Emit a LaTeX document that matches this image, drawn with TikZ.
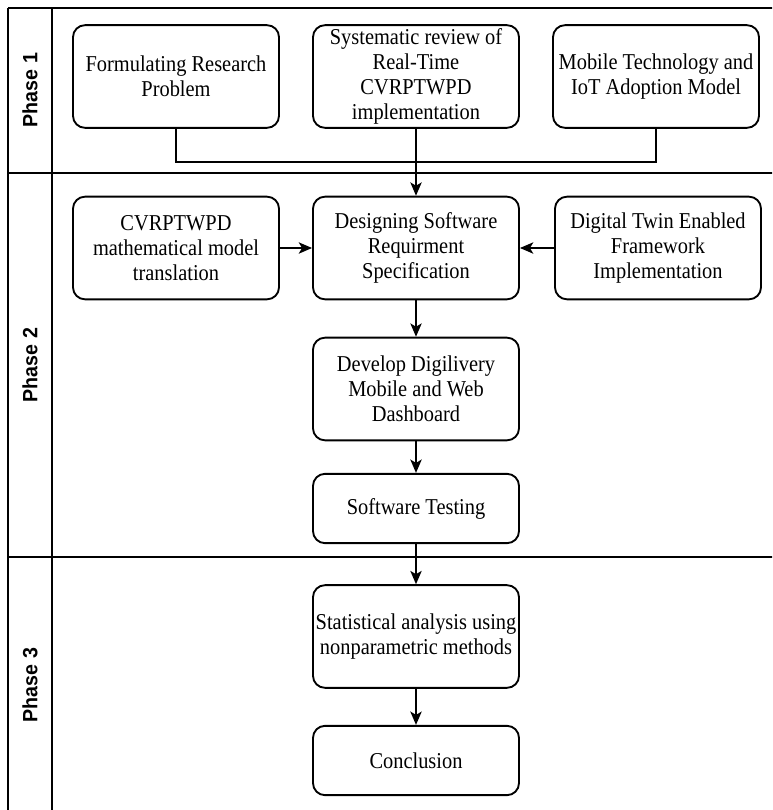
\documentclass[tikz,border=0pt]{standalone}
\usepackage{fontspec}
\setmainfont{Liberation Serif}[FakeStretch=0.9]
\newfontfamily\lanefont{Liberation Sans}[FakeStretch=0.95]
\usetikzlibrary{arrows.meta}
\tikzset{
  stepbox/.style={draw, line width=1.4pt, rounded corners=9pt, align=center,
    inner sep=0pt, minimum width=154.5pt, font=\fontsize{17}{18.75}\selectfont},
  tallbox/.style={stepbox, minimum height=77pt},
  shortbox/.style={stepbox, minimum height=52pt},
  flow/.style={line width=1.3pt, -{Stealth[length=10pt,width=8.5pt,inset=2.5pt]}},
  link/.style={line width=1.3pt},
  lane/.style={line width=1.6pt},
  lanelabel/.style={rotate=90, font=\lanefont\bfseries\fontsize{15.5}{18}\selectfont}
}
\begin{document}
\begin{tikzpicture}[x=0.75pt, y=-0.75pt]
\useasboundingbox (0,0) rectangle (772,810);
\clip (0,0) rectangle (772,810);

% swimlane frame
\draw[lane] (8,8) -- (800,8);
\draw[lane] (8,8) -- (8,840);
\draw[lane] (52,8) -- (52,840);
\draw[lane] (8,173) -- (800,173);
\draw[lane] (8,557) -- (800,557);

\node[lanelabel] (p1) at (30,90) {Phase 1};
\node[lanelabel] (p2) at (30,365) {Phase 2};
\node[lanelabel] (p3) at (30,685) {Phase 3};

% phase 1
\node[tallbox] (prob) at (176,76.5) {Formulating Research\\Problem};
\node[tallbox] (rev) at (416,76.5) {Systematic review of\\Real-Time\\CVRPTWPD\\implementation};
\node[tallbox] (mob) at (656,76.5) {Mobile Technology and\\IoT Adoption Model};

% phase 2
\node[tallbox] (math) at (176,248) {CVRPTWPD\\mathematical model\\translation};
\node[tallbox] (srs) at (416,248) {Designing Software\\Requirment\\Specification};
\node[tallbox] (twin) at (658,248) {Digital Twin Enabled\\Framework\\Implementation};
\node[tallbox] (dev) at (416,389) {Develop Digilivery\\Mobile and Web\\Dashboard};
\node[shortbox] (test) at (416,508.5) {Software Testing};

% phase 3
\node[tallbox] (stat) at (416,636.5) {Statistical analysis using\\nonparametric methods};
\node[shortbox] (conc) at (416,760.5) {Conclusion};

% connectors
\coordinate (join) at (416,162);
\draw[link] (prob.south) |- (join) -| (mob.south);
\draw[flow] (rev.south) -- (srs.north);
\draw[flow] (math.east) -- (srs.west);
\draw[flow] (twin.west) -- (srs.east);
\draw[flow] (srs.south) -- (dev.north);
\draw[flow] (dev.south) -- (test.north);
\draw[flow] (test.south) -- (stat.north);
\draw[flow] (stat.south) -- (conc.north);
\end{tikzpicture}
\end{document}
